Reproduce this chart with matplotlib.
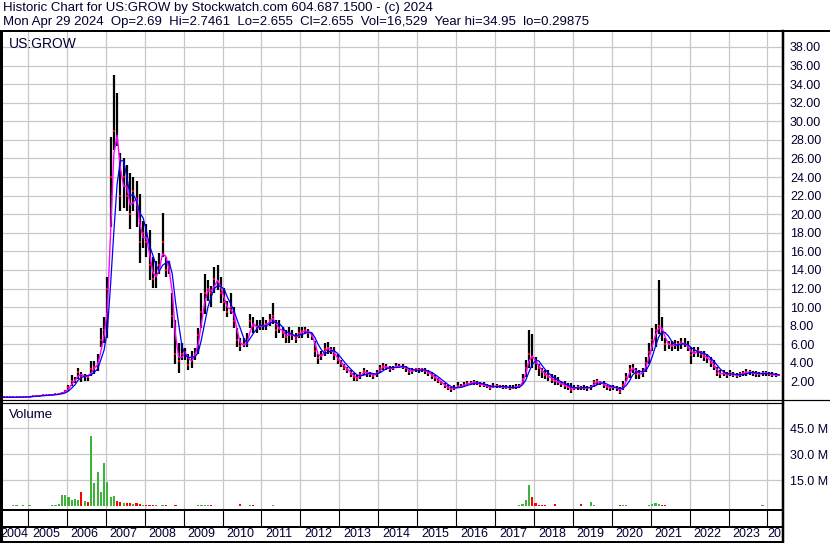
import numpy as np
import pandas as pd
import matplotlib
matplotlib.use('Agg')
import matplotlib.pyplot as plt
from matplotlib.lines import Line2D

W, H = 830, 543

# monthly bars, May 2004 .. Apr 2024 (one line per calendar year)
first_month = '2004-05'
closes = [
    0.30, 0.30, 0.29, 0.30, 0.31, 0.32, 0.33, 0.35,
    0.38, 0.42, 0.45, 0.48, 0.50, 0.52, 0.55, 0.58, 0.62, 0.70, 0.80, 0.95,
    1.4, 2.0, 2.2, 3.0, 2.5, 2.6, 2.5, 3.3, 3.6, 4.0, 6.5, 7.5,
    12.0, 24.0, 29.0, 28.0, 22.0, 24.0, 22.0, 20.0, 22.5, 21.0, 17.0, 18.0,
    17.0, 14.5, 13.0, 13.5, 14.5, 17.0, 14.0, 14.3, 9.0, 5.0, 4.2, 5.0,
    5.2, 3.8, 4.6, 5.0, 7.0, 9.5, 11.5, 12.0, 11.5, 13.0, 12.8, 11.5,
    10.5, 9.5, 10.0, 8.5, 6.5, 5.8, 6.0, 6.2, 8.5, 8.0, 7.8, 8.0,
    8.0, 8.2, 8.6, 9.0, 7.5, 7.8, 7.2, 6.8, 7.2, 7.0, 6.6, 7.2,
    7.4, 7.5, 7.2, 6.9, 5.3, 4.5, 4.9, 5.5, 5.6, 5.3, 4.8, 4.3,
    3.9, 3.5, 3.2, 2.8, 2.5, 2.3, 2.8, 3.1, 2.9, 2.8, 2.6, 2.9,
    3.4, 3.7, 3.5, 3.3, 3.5, 3.7, 3.6, 3.6, 3.4, 3.0, 3.2, 3.3,
    3.2, 3.3, 3.1, 2.9, 2.6, 2.4, 2.1, 1.8, 1.5, 1.3, 1.2, 1.3,
    1.5, 1.45, 1.6, 1.8, 1.85, 1.9, 1.8, 1.65, 1.6, 1.5, 1.3, 1.5,
    1.5, 1.45, 1.4, 1.35, 1.3, 1.35, 1.4, 1.5, 2.3, 3.4, 5.0, 4.5,
    4.0, 3.4, 3.0, 2.7, 2.5, 2.2, 2.0, 1.9, 1.7, 1.5, 1.4, 1.1,
    1.35, 1.4, 1.3, 1.35, 1.3, 1.4, 1.9, 2.0, 1.9, 1.6, 1.4, 1.3,
    1.4, 1.3, 0.9, 1.6, 2.5, 3.3, 3.5, 2.8, 2.8, 3.0, 4.0, 5.2,
    6.5, 7.5, 8.0, 7.5, 6.0, 6.0, 5.8, 6.0, 6.0, 6.2, 6.0, 5.6,
    4.8, 5.2, 5.3, 5.0, 4.6, 4.5, 4.0, 3.6, 2.9, 2.8, 2.9, 2.7,
    2.9, 2.7, 2.6, 2.8, 2.9, 3.0, 3.0, 2.9, 2.8, 2.8, 2.9, 2.9,
    2.8, 2.7, 2.7, 2.655,
]
highs = [
    0.33, 0.33, 0.32, 0.33, 0.34, 0.35, 0.36, 0.38,
    0.41, 0.45, 0.48, 0.52, 0.54, 0.56, 0.59, 0.62, 0.67, 0.78, 0.90, 1.05,
    1.6, 2.65, 2.5, 3.5, 3.0, 2.8, 2.6, 4.2, 4.2, 5.0, 7.8, 8.9,
    13.2, 28.3, 34.95, 33.0, 26.6, 26.1, 25.3, 24.4, 24.0, 23.6, 22.2, 19.3,
    19.0, 18.3, 15.4, 15.0, 15.8, 20.1, 15.4, 15.0, 11.5, 8.6, 6.1, 6.1,
    5.6, 5.0, 5.3, 5.6, 7.8, 11.5, 13.6, 12.9, 12.3, 14.3, 14.5, 13.2,
    12.1, 10.7, 11.5, 10.0, 7.8, 6.7, 6.7, 7.2, 9.3, 8.9, 8.6, 8.6,
    8.9, 8.6, 9.3, 10.4, 8.6, 8.6, 7.9, 7.5, 7.9, 7.5, 7.2, 7.9,
    7.9, 7.9, 7.7, 7.2, 6.4, 5.0, 5.3, 6.1, 6.2, 5.7, 5.7, 5.0,
    4.3, 3.9, 3.6, 3.2, 2.9, 2.7, 3.0, 3.4, 3.2, 3.0, 2.9, 3.2,
    3.8, 4.0, 3.9, 3.7, 3.7, 4.0, 3.9, 3.9, 3.7, 3.4, 3.4, 3.5,
    3.4, 3.5, 3.4, 3.2, 3.0, 2.7, 2.4, 2.1, 1.8, 1.6, 1.4, 1.6,
    1.9, 1.7, 1.9, 2.1, 2.1, 2.2, 2.1, 1.9, 1.9, 1.7, 1.6, 1.8,
    1.7, 1.65, 1.65, 1.6, 1.6, 1.6, 1.7, 1.7, 2.8, 4.3, 7.5, 7.1,
    4.6, 3.9, 3.5, 3.2, 3.2, 2.8, 2.7, 2.5, 2.1, 2.0, 1.8, 1.8,
    1.6, 1.6, 1.55, 1.6, 1.5, 1.6, 2.2, 2.3, 2.1, 2.0, 1.6, 1.6,
    1.6, 1.5, 1.4, 2.0, 2.9, 3.8, 3.9, 3.4, 3.2, 3.4, 4.6, 6.1,
    7.8, 8.2, 12.9, 8.9, 6.7, 6.4, 6.4, 6.5, 6.4, 6.7, 6.7, 6.4,
    5.7, 5.7, 5.7, 5.3, 5.3, 5.0, 4.6, 4.3, 3.6, 3.2, 3.2, 3.0,
    3.2, 3.0, 2.95, 3.05, 3.15, 3.35, 3.25, 3.15, 3.15, 3.05, 3.15, 3.15,
    3.0, 3.0, 2.9, 2.75,
]
lows = [
    0.27, 0.27, 0.26, 0.27, 0.28, 0.29, 0.30, 0.32,
    0.35, 0.39, 0.42, 0.45, 0.47, 0.49, 0.52, 0.55, 0.58, 0.64, 0.72, 0.85,
    1.0, 1.5, 1.8, 2.3, 1.9, 2.0, 2.0, 2.6, 2.8, 3.1, 5.7, 6.1,
    6.7, 18.6, 26.9, 27.3, 20.4, 20.7, 20.4, 18.4, 20.4, 18.6, 14.7, 16.4,
    15.4, 12.9, 12.1, 12.1, 13.6, 15.4, 13.2, 13.6, 7.8, 3.9, 2.9, 4.3,
    4.3, 3.2, 3.5, 4.3, 5.0, 7.8, 9.3, 10.7, 10.0, 11.5, 11.8, 10.4,
    9.6, 8.9, 9.3, 7.8, 5.7, 5.3, 5.7, 5.7, 7.8, 7.2, 7.2, 7.5,
    7.5, 7.5, 8.0, 8.2, 6.7, 7.2, 6.7, 6.1, 6.1, 6.5, 6.1, 6.7,
    6.7, 7.2, 6.7, 6.5, 4.6, 3.9, 4.3, 4.7, 5.0, 5.0, 4.3, 3.9,
    3.6, 3.2, 2.9, 2.5, 2.1, 2.0, 2.3, 2.7, 2.5, 2.5, 2.3, 2.5,
    2.9, 3.2, 3.2, 3.0, 3.2, 3.5, 3.4, 3.3, 3.0, 2.7, 2.8, 3.0,
    2.9, 3.0, 2.8, 2.6, 2.3, 2.1, 1.8, 1.6, 1.25, 1.1, 0.9, 1.1,
    1.25, 1.25, 1.4, 1.6, 1.6, 1.6, 1.6, 1.4, 1.4, 1.25, 1.1, 1.3,
    1.3, 1.25, 1.2, 1.2, 1.1, 1.2, 1.2, 1.3, 1.7, 2.5, 3.5, 3.5,
    3.2, 2.6, 2.4, 2.3, 2.0, 1.8, 1.6, 1.6, 1.4, 1.2, 1.1, 0.8,
    1.1, 1.1, 1.05, 1.05, 1.0, 1.1, 1.4, 1.6, 1.6, 1.3, 1.1, 1.0,
    1.1, 1.0, 0.7, 1.1, 2.0, 2.4, 2.9, 2.3, 2.3, 2.5, 3.0, 3.9,
    5.3, 5.7, 7.1, 6.4, 5.3, 5.5, 5.3, 5.5, 5.3, 5.5, 5.7, 5.3,
    3.9, 4.6, 4.6, 4.5, 4.2, 4.0, 3.6, 3.2, 2.6, 2.4, 2.6, 2.4,
    2.6, 2.45, 2.4, 2.5, 2.6, 2.6, 2.65, 2.6, 2.5, 2.5, 2.6, 2.6,
    2.55, 2.45, 2.45, 2.655,
]
# peak daily volume seen in each month, millions of shares
volumes = [
    0.3, 0.2, 0.3, 0.8, 0.4, 0.3, 0.6, 0.3,
    0.5, 0.3, 0.2, 0.3, 0.2, 0.3, 0.2, 0.4, 0.5, 1.0, 6.3, 6.2,
    5.0, 3.5, 4.0, 3.5, 8.0, 3.0, 2.5, 40.6, 13.3, 20.0, 8.0, 24.8,
    14.0, 5.0, 6.0, 3.0, 2.5, 2.0, 1.5, 2.0, 1.0, 1.5, 1.0, 0.8,
    0.7, 0.5, 0.4, 0.4, 0.3, 0.5, 0.4, 0.3, 0.3, 0.4, 0.3, 0.3,
    0.3, 0.3, 0.3, 0.3, 0.4, 0.6, 0.5, 0.8, 0.4, 0.3, 0.3, 0.3,
    0.3, 0.3, 0.3, 0.3, 0.3, 1.2, 0.3, 0.3, 0.6, 0.6, 0.3, 0.3,
    0.3, 0.3, 0.3, 0.4, 0.3, 0.3, 0.3, 0.3, 0.3, 0.3, 0.3, 0.3,
    0.3, 0.3, 0.2, 0.3, 0.3, 0.3, 0.3, 0.3, 0.3, 0.2, 0.3, 0.3,
    0.3, 0.3, 0.3, 0.2, 0.3, 0.3, 0.3, 0.3, 0.2, 0.3, 0.3, 0.3,
    0.3, 0.3, 0.3, 0.3, 0.2, 0.3, 0.3, 0.3, 0.3, 0.3, 0.2, 0.3,
    0.3, 0.3, 0.3, 0.3, 0.3, 0.2, 0.3, 0.3, 0.3, 0.3, 0.3, 0.3,
    0.3, 0.3, 0.3, 0.3, 0.3, 0.3, 0.3, 0.2, 0.3, 0.3, 0.3, 0.3,
    0.3, 0.3, 0.3, 0.3, 0.3, 0.3, 0.3, 0.4, 1.0, 3.5, 12.0, 5.0,
    1.5, 0.5, 0.4, 0.4, 0.3, 0.3, 1.0, 0.3, 0.3, 0.3, 0.3, 0.3,
    0.3, 0.3, 1.1, 0.3, 0.3, 2.5, 0.4, 0.3, 0.3, 0.3, 0.3, 0.3,
    0.3, 0.3, 0.4, 0.6, 0.5, 0.3, 0.3, 0.3, 0.3, 0.3, 0.3, 0.4,
    1.0, 1.5, 1.2, 0.8, 0.4, 0.3, 0.3, 0.3, 0.3, 0.3, 0.3, 0.3,
    0.3, 0.3, 0.3, 0.3, 0.3, 0.3, 0.3, 0.3, 0.3, 0.3, 0.3, 0.3,
    0.3, 0.3, 0.3, 0.3, 0.3, 0.3, 0.3, 0.3, 0.3, 0.3, 0.6, 0.3,
    0.3, 0.3, 0.3, 0.3,
]
years = list(range(2004, 2025))
price_ticks = list(range(2, 40, 2))
volume_ticks = [15, 30, 45]

title_1 = 'Historic Chart for US:GROW by Stockwatch.com 604.687.1500 - (c) 2024'
title_2 = ('Mon Apr 29 2024  Op=2.69  Hi=2.7461  Lo=2.655  Cl=2.655  '
           'Vol=16,529  Year hi=34.95  lo=0.29875')

FONT = 'Liberation Sans'
TEXT = '#000030'
GRID = '#c8c8c8'
XLIM = (2004.36, 2024.40)

plt.rcParams['font.family'] = FONT


def box(y_top, y_bot):
    # axes rectangle from pixel rows, plot area spans x 3..783
    return [3 / W, 1 - y_bot / H, 780 / W, (y_bot - y_top) / H]


def fig_line(fig, x0, y0, x1, y1, lw=1.0):
    fig.add_artist(Line2D([x0 / W, x1 / W], [1 - y0 / H, 1 - y1 / H],
                          color='black', lw=lw * 0.72, transform=fig.transFigure))


def style_panel(ax, ticks, labels):
    ax.set_xlim(*XLIM)
    ax.set_xticks(years[1:])
    ax.set_yticks(ticks)
    ax.set_yticklabels(labels)
    ax.yaxis.tick_right()
    ax.tick_params(axis='both', length=0, labelbottom=False, labelsize=9,
                   labelcolor=TEXT, pad=5)
    ax.grid(True, color=GRID, lw=0.9)
    ax.set_axisbelow(True)
    for s in ax.spines.values():
        s.set_visible(False)


months = pd.period_range(first_month, periods=len(closes), freq='M')
t = np.asarray(months.year + (months.month - 0.5) / 12)
close = pd.Series(closes)
ma_fast = close.rolling(2, min_periods=1).mean()
ma_slow = close.rolling(4, min_periods=1).mean()
up = close.diff().fillna(0) >= 0

fig = plt.figure(figsize=(W / 100, H / 100), dpi=100, facecolor='white')

# price panel
ax = fig.add_axes(box(31, 399.5))
style_panel(ax, price_ticks, [f'{v:.2f}' for v in price_ticks])
ax.set_ylim(0.06, 39.72)
ax.vlines(t, lows, highs, color='black', lw=1.6)
ax.plot(t, closes, ls='none', marker='_', ms=2, mew=1.3, color='red')
ax.plot(t, ma_fast, color='magenta', lw=1.0)
ax.plot(t, ma_slow, color='blue', lw=0.9)
ax.text(0.008, 0.985, 'US:GROW', transform=ax.transAxes, ha='left', va='top',
        fontsize=10, color=TEXT)

# volume panel
axv = fig.add_axes(box(402.5, 509))
style_panel(axv, volume_ticks, [f'{v:.1f} M' for v in volume_ticks])
axv.set_ylim(-1.7, 60)
axv.bar(t, volumes, width=0.055, color=np.where(up, '#3cb43c', '#ff0000'))
axv.text(0.008, 0.94, 'Volume', transform=axv.transAxes, ha='left', va='top',
         fontsize=9.5, color=TEXT)

# year strip
axd = fig.add_axes(box(509, 541))
axd.set_xlim(*XLIM)
axd.set_ylim(0, 32)
axd.axis('off')
axd.vlines(years[1:], 14, 32, color='black', lw=0.8)
for y in years:
    lo, hi = max(y, XLIM[0]), min(y + 1, XLIM[1])
    if hi - lo < 0.5:
        axd.text(lo, 7, str(y), ha='left', va='center', fontsize=9,
                 color=TEXT, clip_on=True)
    else:
        axd.text((lo + hi) / 2 - 0.04, 7, str(y), ha='center', va='center',
                 fontsize=9, color=TEXT, clip_on=True)

# frame lines
fig_line(fig, 0, 31, 830, 31, 2)
fig_line(fig, 1, 31, 1, 543, 3)
fig_line(fig, 782.5, 31, 782.5, 543, 2.5)
fig_line(fig, 0, 400, 830, 400, 1.2)
fig_line(fig, 0, 402.5, 783, 402.5, 1.2)
fig_line(fig, 0, 509.5, 783, 509.5, 2)
fig_line(fig, 0, 526.5, 783, 526.5, 2)
fig_line(fig, 0, 541.5, 783, 541.5, 2)

fig.text(3 / W, 1 - 1.5 / H, title_1, ha='left', va='top', fontsize=9.5, color=TEXT)
fig.text(3 / W, 1 - 15.5 / H, title_2, ha='left', va='top', fontsize=9.5, color=TEXT)

fig.savefig('out.png', dpi=100, facecolor='white')
